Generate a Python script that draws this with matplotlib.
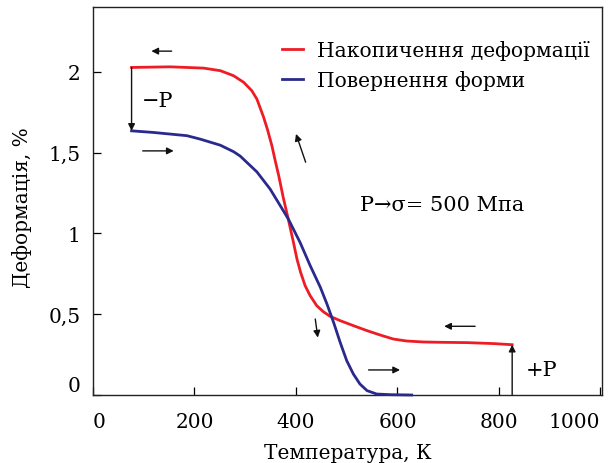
import matplotlib
matplotlib.use("Agg")
import matplotlib.pyplot as plt

# ---- data ----
red_x = [76, 152, 218, 251, 277, 297, 313, 323, 336, 344, 352.5, 359, 366, 375, 385,
         395, 402, 409, 418, 428, 441, 454, 467, 487, 513, 540, 566, 592, 618, 651,
         684, 737, 790, 826]
red_y = [2.026, 2.03, 2.022, 2.006, 1.975, 1.934, 1.882, 1.83, 1.72, 1.64, 1.542, 1.45,
         1.356, 1.22, 1.085, 0.944, 0.84, 0.76, 0.676, 0.614, 0.552, 0.515, 0.487, 0.46,
         0.429, 0.398, 0.371, 0.346, 0.334, 0.328, 0.326, 0.324, 0.318, 0.311]
blue_x = [76, 119, 185, 211, 251, 277, 290, 323, 349, 369, 385, 408, 428, 448, 461,
          474, 487, 500, 513, 526, 540, 559, 586, 628]
blue_y = [1.634, 1.624, 1.604, 1.583, 1.545, 1.505, 1.478, 1.38, 1.274, 1.171, 1.088,
          0.944, 0.80, 0.666, 0.563, 0.45, 0.326, 0.212, 0.13, 0.068, 0.027, 0.006,
          0.002, 0.0]

red_label = "Накопичення деформації"
blue_label = "Повернення форми"
x_ticks = [0, 200, 400, 600, 800, 1000]
y_ticks = [0, 0.5, 1, 1.5, 2]
y_tick_labels = ["0", "0,5", "1", "1,5", "2"]
x_label = "Температура, К"
y_label = "Деформація, %"
stress_text = "P\u2192\u03c3= 500 Мпа"

RED = "#ee1d25"
BLUE = "#2a2a8e"

plt.rcParams["font.family"] = ["DejaVu Serif", "DejaVu Sans"]
plt.rcParams["mathtext.fontset"] = "dejavuserif"

fig = plt.figure(figsize=(6.12, 4.64), dpi=100)
ax = fig.add_axes([93 / 612, 1 - 396 / 464, 509 / 612, 388 / 464])

ax.plot(red_x, red_y, color=RED, lw=2.0, label=red_label, clip_on=False, zorder=3,
        solid_joinstyle="round")
ax.plot(blue_x, blue_y, color=BLUE, lw=2.0, label=blue_label, clip_on=False, zorder=3,
        solid_joinstyle="round")

ax.set_xlim(0, 1003)
ax.set_ylim(0, 2.4)
ax.set_xticks(x_ticks)
ax.set_yticks(y_ticks)
ax.set_yticklabels(y_tick_labels)
ax.tick_params(axis="both", direction="in", length=5.5, width=0.9, labelsize=14.5,
               top=False, right=False)
ax.tick_params(axis="x", pad=12)
ax.tick_params(axis="y", pad=9)
for s in ax.spines.values():
    s.set_linewidth(1.0)
    s.set_color("#222222")

xt = ax.get_xticklabels()
xt[0].set_ha("left")
xt[-1].set_ha("right")
yt = ax.get_yticklabels()
yt[0].set_va("bottom")

ax.set_xlabel(x_label, fontsize=14.5)
ax.xaxis.set_label_coords(0.5, -0.125)
ax.set_ylabel(y_label, fontsize=14.5)
ax.yaxis.set_label_coords(-0.12, 0.485)

arrow = dict(arrowstyle="-|>", color="#111111", lw=1.0, mutation_scale=10,
             shrinkA=0, shrinkB=0)

def arr(x0, y0, x1, y1):
    ax.annotate("", xy=(x1, y1), xytext=(x0, y0), arrowprops=arrow)

# loading / unloading arrows
arr(red_x[0], red_y[0], blue_x[0], blue_y[0])
arr(red_x[-1], 0, red_x[-1], red_y[-1])
# direction arrows
arr(155, 2.127, 115, 2.127)
arr(98, 1.51, 159, 1.51)
arr(419, 1.44, 400, 1.615)
arr(438, 0.47, 443, 0.355)
arr(543, 0.155, 605, 0.155)
arr(753, 0.425, 692, 0.425)

ax.text(96, 1.82, "\u2212P", fontsize=15, ha="left", va="center")
ax.text(853, 0.16, "+P", fontsize=15, ha="left", va="center")
ax.text(526, 1.18, stress_text, fontsize=15, ha="left", va="center")

ax.legend(loc="upper left", bbox_to_anchor=(0.372, 0.915), frameon=False,
          fontsize=14.6, handlelength=1.0, handletextpad=0.7, labelspacing=0.5,
          borderpad=0, borderaxespad=0)

fig.savefig("out.png", dpi=100)
